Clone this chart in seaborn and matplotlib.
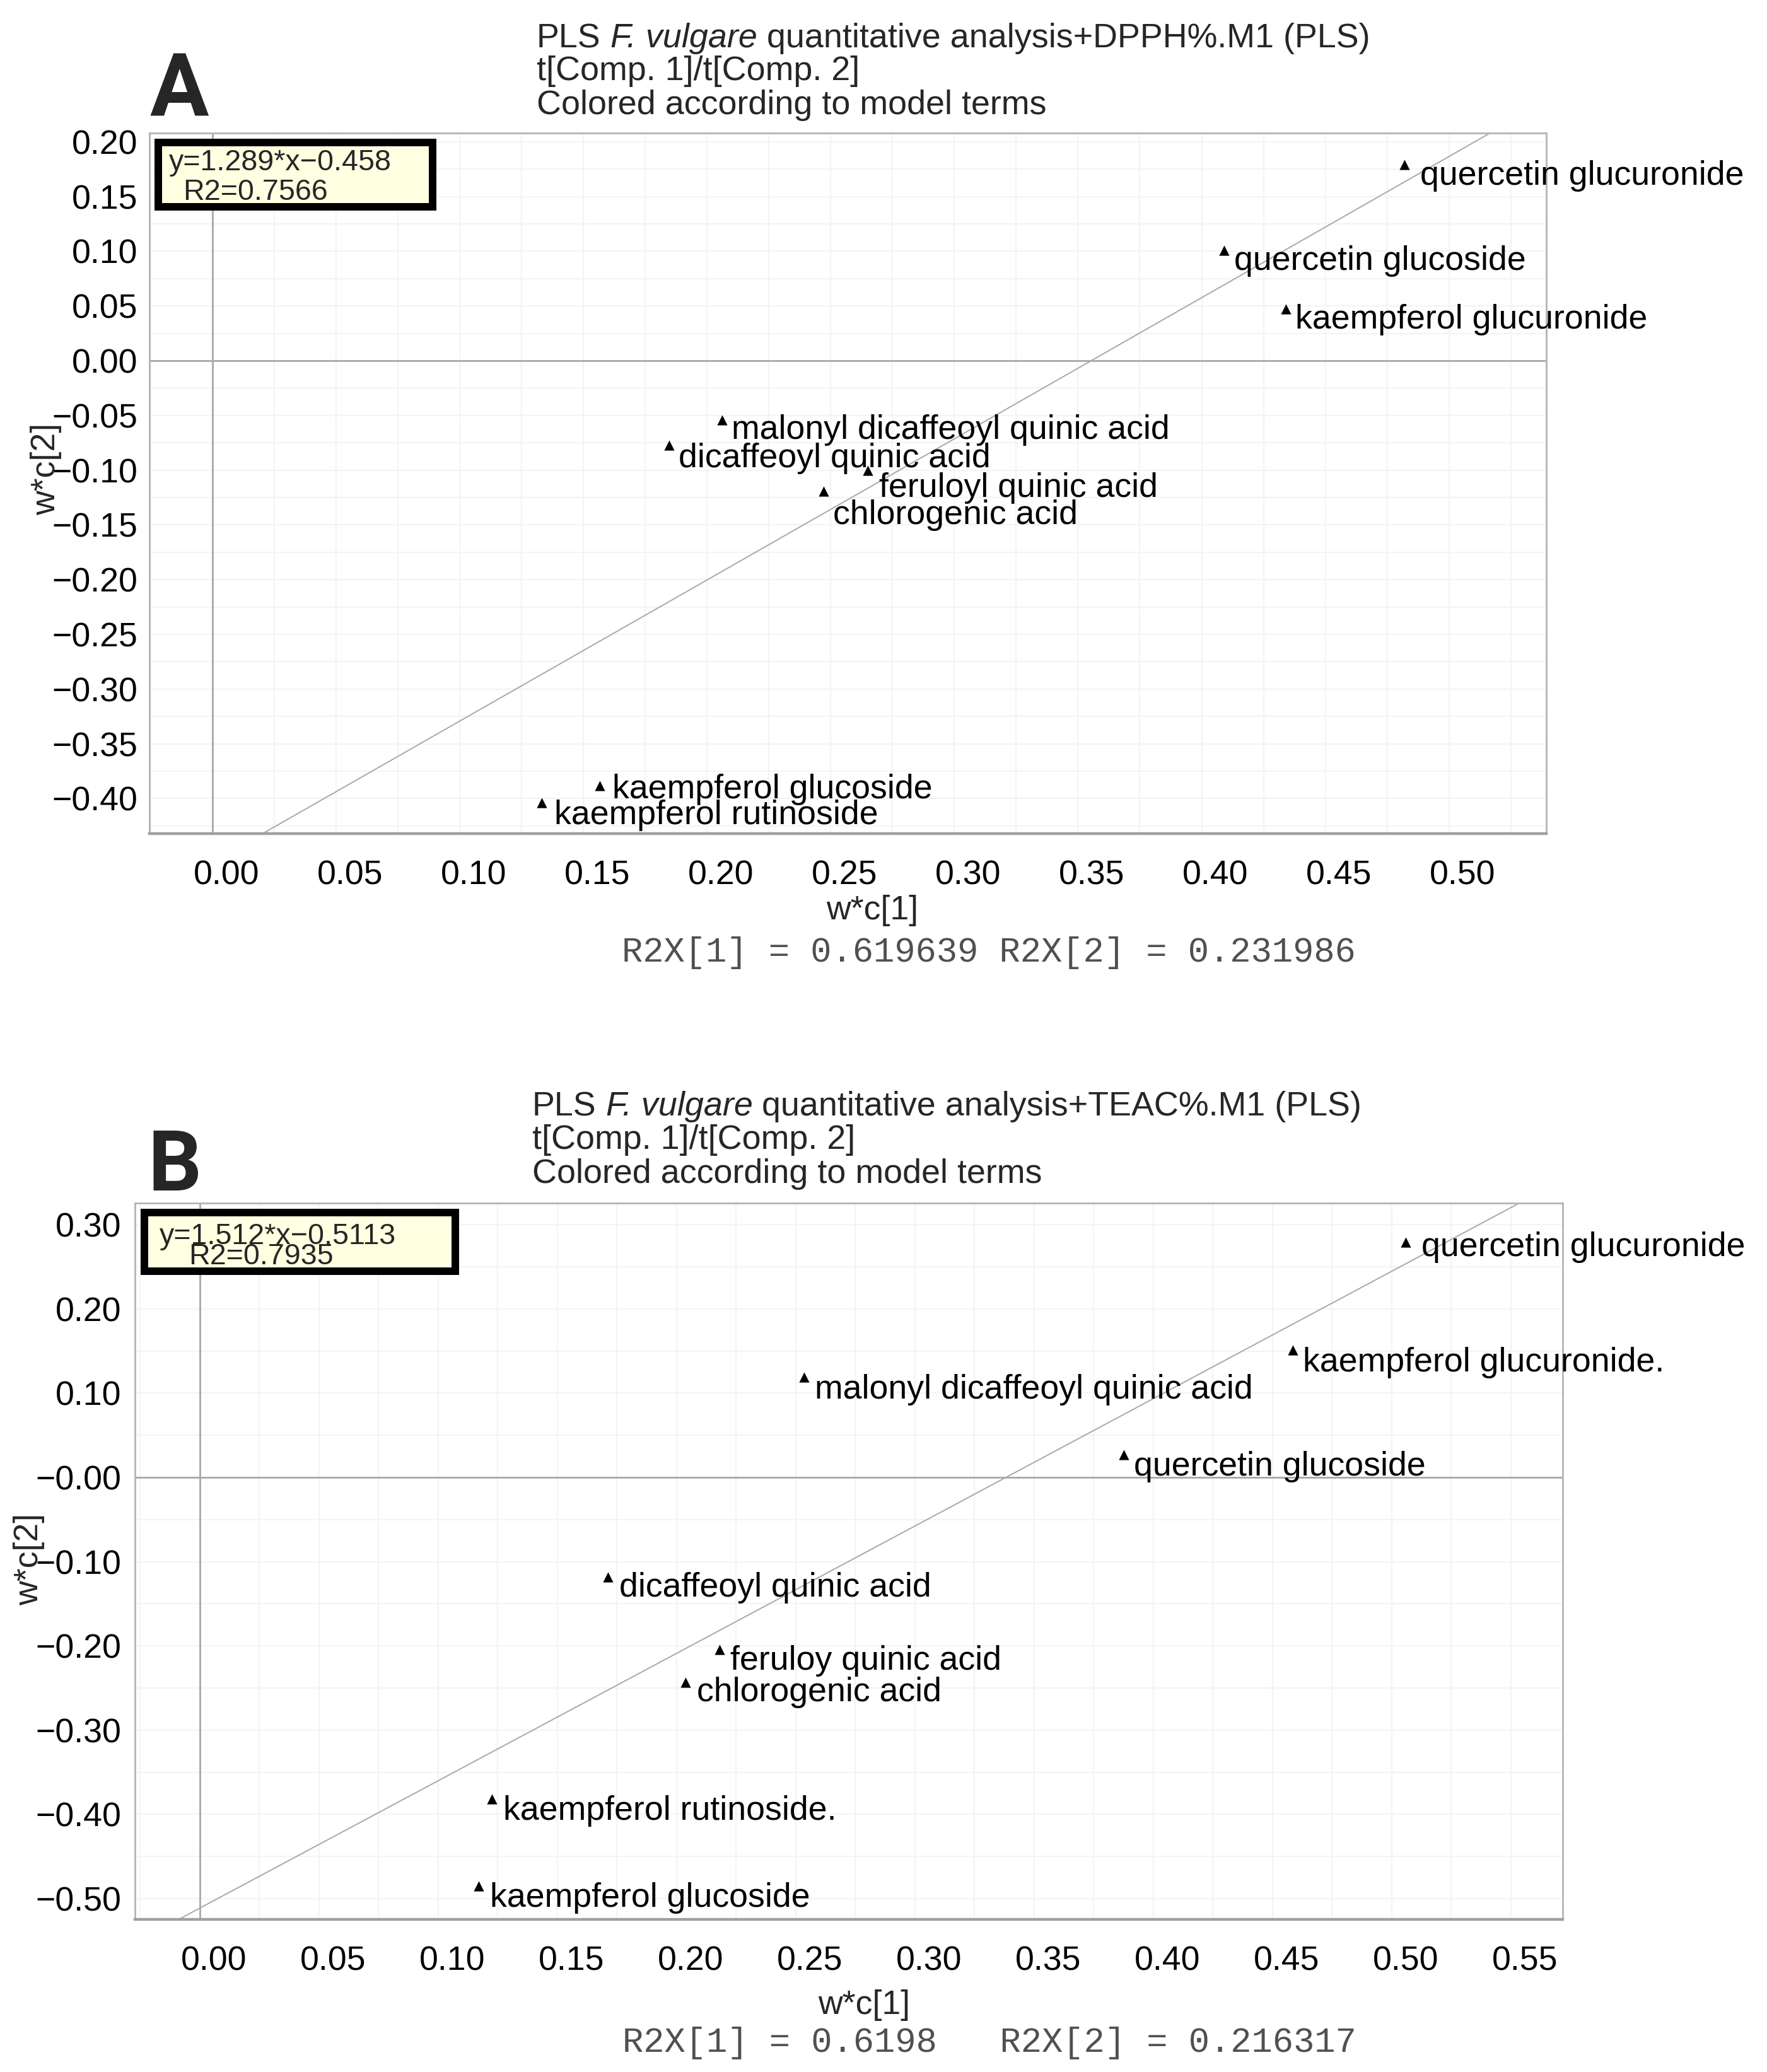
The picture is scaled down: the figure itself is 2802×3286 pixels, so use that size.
import matplotlib
matplotlib.use('Agg')
import matplotlib.pyplot as plt
import seaborn as sns
import pandas as pd
from matplotlib.patches import Rectangle
from matplotlib.transforms import ScaledTranslation

# --- Panel A: DPPH model loadings ---
names_a = ['quercetin glucuronide', 'quercetin glucoside', 'kaempferol glucuronide',
           'malonyl dicaffeoyl quinic acid', 'dicaffeoyl quinic acid', 'feruloyl quinic acid',
           'chlorogenic acid', 'kaempferol glucoside', 'kaempferol rutinoside']
wc1_a = [0.482, 0.409, 0.434, 0.206, 0.1845, 0.265, 0.247, 0.1565, 0.133]
wc2_a = [0.179, 0.101, 0.047, -0.054, -0.077, -0.100, -0.119, -0.3885, -0.4035]
slope_a, icpt_a = 1.289, -0.458
eq_a = ['y=1.289*x\u22120.458', 'R2=0.7566']
title_a = [('PLS', 'F. vulgare', 'quantitative analysis+DPPH%.M1 (PLS)'),
           't[Comp. 1]/t[Comp. 2]', 'Colored according to model terms']
r2x_a = 'R2X[1] = 0.619639 R2X[2] = 0.231986'
xticks_a = [0.00, 0.05, 0.10, 0.15, 0.20, 0.25, 0.30, 0.35, 0.40, 0.45, 0.50]
yticks_a = [0.20, 0.15, 0.10, 0.05, 0.00, -0.05, -0.10, -0.15, -0.20, -0.25, -0.30, -0.35, -0.40]
ylabels_a = ['0.20', '0.15', '0.10', '0.05', '0.00', '\u22120.05', '\u22120.10', '\u22120.15',
             '\u22120.20', '\u22120.25', '\u22120.30', '\u22120.35', '\u22120.40']

# --- Panel B: TEAC model loadings ---
names_b = ['quercetin glucuronide', 'kaempferol glucuronide.', 'malonyl dicaffeoyl quinic acid',
           'quercetin glucoside', 'dicaffeoyl quinic acid', 'feruloy quinic acid',
           'chlorogenic acid', 'kaempferol rutinoside.', 'kaempferol glucoside']
wc1_b = [0.5058, 0.4585, 0.2534, 0.3876, 0.1712, 0.218, 0.2038, 0.1224, 0.1169]
wc2_b = [0.279, 0.151, 0.119, 0.027, -0.118, -0.2044, -0.243, -0.382, -0.485]
slope_b, icpt_b = 1.512, -0.5113
eq_b = ['y=1.512*x\u22120.5113', 'R2=0.7935']
title_b = [('PLS', 'F. vulgare', 'quantitative analysis+TEAC%.M1 (PLS)'),
           't[Comp. 1]/t[Comp. 2]', 'Colored according to model terms']
r2x_b = 'R2X[1] = 0.6198   R2X[2] = 0.216317'
xticks_b = [0.00, 0.05, 0.10, 0.15, 0.20, 0.25, 0.30, 0.35, 0.40, 0.45, 0.50, 0.55]
yticks_b = [0.30, 0.20, 0.10, 0.00, -0.10, -0.20, -0.30, -0.40, -0.50]
ylabels_b = ['0.30', '0.20', '0.10', '\u22120.00', '\u22120.10', '\u22120.20', '\u22120.30',
             '\u22120.40', '\u22120.50']

# label offsets from the marker (pixels right, pixels down to baseline)
offs_a = [(25, 32), (16, 31), (15, 31), (15, 30), (15, 35), (18, 42), (15, 52), (20, 20), (20, 34)]
offs_b = [(25, 22), (16, 34), (17, 34), (16, 33), (18, 31), (17, 32), (18, 30), (18, 33), (18, 33)]

W, H, DPI = 2802, 3286, 200
sns.set_theme(style='white')
plt.rcParams['font.family'] = ['Liberation Sans', 'DejaVu Sans']

fig = plt.figure(figsize=(W / DPI, H / DPI), dpi=DPI)
fig.patch.set_facecolor('white')
renderer = fig.canvas.get_renderer()


def fx(px):
    return px / W


def fy(py):
    return 1 - py / H


def panel(box, xs, ys, names, offs, slope, icpt, xlim, ylim, xt, xminor, yt, ylab, yminor,
          ypad, xlab_pos, ylab_pos):
    l, t, r, b = box
    ax = fig.add_axes([fx(l), fy(b), fx(r) - fx(l), fy(t) - fy(b)])
    df = pd.DataFrame({'w*c[1]': xs, 'w*c[2]': ys, 'term': names})
    ax.axhline(0, color='#a8a8a8', lw=1.0, zorder=1)
    ax.axvline(0, color='#a8a8a8', lw=1.0, zorder=1)
    ax.axline((0, icpt), slope=slope, color='#a8a8a8', lw=0.7, zorder=1)
    sns.scatterplot(data=df, x='w*c[1]', y='w*c[2]', marker='^', color='black', s=34,
                    linewidth=0, ax=ax, zorder=3)
    for xv, yv, nm, (dx, dy) in zip(xs, ys, names, offs):
        ax.annotate(nm, (xv, yv), xytext=(dx, -dy), textcoords='offset pixels',
                    ha='left', va='baseline', fontsize=19.3, color='black',
                    annotation_clip=False, zorder=4)
    ax.set_xlim(xlim)
    ax.set_ylim(ylim)
    ax.set_xticks(xt)
    ax.set_xticklabels(['%.2f' % v for v in xt])
    ax.set_xticks(xminor, minor=True)
    ax.set_yticks(yt)
    ax.set_yticklabels(ylab)
    ax.set_yticks(yminor, minor=True)
    ax.grid(True, which='both', color='#f4f4f4', lw=0.8)
    ax.set_axisbelow(True)
    ax.tick_params(axis='both', which='both', direction='out', length=3.6, width=0.8,
                   color='#a0a0a0', labelsize=19.3, labelcolor='black')
    ax.tick_params(axis='x', which='both', pad=11.5)
    ax.tick_params(axis='y', which='both', pad=ypad)
    shift = ScaledTranslation(22 / DPI, 0, fig.dpi_scale_trans)
    for lbl in ax.get_xticklabels():
        lbl.set_transform(lbl.get_transform() + shift)
    for side in ['top', 'right', 'left']:
        ax.spines[side].set_color('#b4b4b4')
        ax.spines[side].set_linewidth(1.0)
    ax.spines['bottom'].set_color('#a0a0a0')
    ax.spines['bottom'].set_linewidth(1.6)
    ax.set_xlabel('w*c[1]', fontsize=19.3)
    ax.set_ylabel('w*c[2]', fontsize=19.3)
    ax.xaxis.set_label_coords(*xlab_pos)
    ax.xaxis.label.set_va('baseline')
    ax.yaxis.set_label_coords(*ylab_pos)
    ax.yaxis.label.set_va('center')
    return ax


def run_text(px, py, parts, size):
    # write normal / italic / normal pieces one after another on one baseline
    sp = fig.text(0, 0, 'x x', fontsize=size)
    nsp = fig.text(0, 0, 'xx', fontsize=size)
    space = sp.get_window_extent(renderer).width - nsp.get_window_extent(renderer).width
    sp.remove()
    nsp.remove()
    x = px
    for s, style in zip(parts, ['normal', 'italic', 'normal']):
        t = fig.text(fx(x), fy(py), s, fontsize=size, fontstyle=style,
                     va='baseline', ha='left')
        x += t.get_window_extent(renderer).width + space


def frame(box, eq, tpos, letter, lpos, lsize, titles, tx, tys, r2x, r2pos):
    x0, y0, x1, y1 = box
    fig.patches.append(Rectangle((fx(x0), fy(y1)), fx(x1) - fx(x0), fy(y0) - fy(y1),
                                 transform=fig.transFigure, facecolor='#ffffe1',
                                 edgecolor='black', lw=4.3, zorder=5))
    for (px, py), s in zip(tpos, eq):
        fig.text(fx(px), fy(py), s, fontsize=16.8, va='baseline', ha='left', zorder=6)
    fig.text(fx(lpos[0]), fy(lpos[1]), letter, fontsize=lsize, fontweight='bold',
             family='Roboto', va='baseline', ha='left')
    run_text(tx, tys[0], titles[0], 19.4)
    for s, ty in zip(titles[1:], tys[1:]):
        fig.text(fx(tx), fy(ty), s, fontsize=19.4, va='baseline', ha='left')
    fig.text(fx(r2pos[0]), fy(r2pos[1]), r2x, fontsize=20, family='Liberation Mono',
             color='#505050', va='baseline', ha='center')


panel((237, 211, 2452, 1322), wc1_a, wc2_a, names_a, offs_a, slope_a, icpt_a,
      (-0.0256, 0.5394), (-0.432, 0.208), xticks_a,
      [-0.025 + 0.05 * i for i in range(12)], yticks_a, ylabels_a,
      [0.175 - 0.05 * i for i in range(13)], 3.0, (0.5174, -0.1224), (-0.074, 0.52))
frame((251, 226, 686, 328), eq_a, [(268, 270), (290, 317)], 'A', (237, 183), 50,
      title_a, 851, [75, 127, 181], r2x_a, (1568, 1525))

panel((214, 1908, 2478, 3044), wc1_b, wc2_b, names_b, offs_b, slope_b, icpt_b,
      (-0.0272, 0.5717), (-0.5247, 0.3256), xticks_b,
      [-0.025 + 0.05 * i for i in range(12)], yticks_b, ylabels_b,
      [0.25 - 0.1 * i for i in range(8)], 4.3, (0.5106, -0.132), (-0.0742, 0.5026))
frame((229, 1923, 722, 2016), eq_b, [(253, 1973), (299, 2005)], 'B', (234, 1888), 48,
      title_b, 844, [1769, 1822, 1876], r2x_b, (1569, 3254))

fig.savefig('out.png', dpi=DPI)
